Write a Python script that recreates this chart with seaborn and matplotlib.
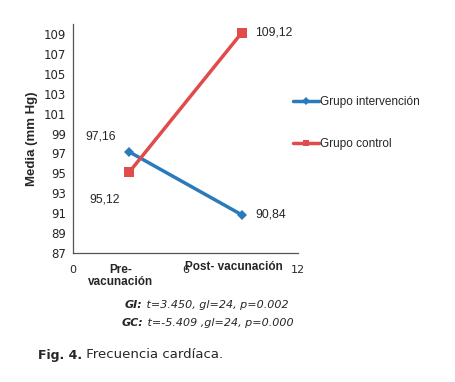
import pandas as pd
import numpy as np
import matplotlib.pyplot as plt
import seaborn as sns

# Datos
momentos = [3, 9]
grupo_intervencion = [97.16, 90.84]
grupo_control = [95.12, 109.12]
etiquetas_int = ['97,16', '90,84']
etiquetas_ctrl = ['95,12', '109,12']
series = ['Grupo intervención', 'Grupo control']
categorias = ['Pre-\nvacunación', 'Post- vacunación']

azul = '#2b7bba'
rojo = '#e04b4b'

sns.set_style("white")
plt.rcParams['font.family'] = ['Liberation Sans', 'DejaVu Sans']

df = pd.DataFrame({
    'x': momentos * 2,
    'media': grupo_intervencion + grupo_control,
    'grupo': [series[0]] * 2 + [series[1]] * 2,
})

fig = plt.figure(figsize=(4.55, 3.82), dpi=100)
ax = fig.add_axes([0.1604, 0.3377, 0.4945, 0.5993])

sns.lineplot(data=df, x='x', y='media', hue='grupo', style='grupo',
             palette=[azul, rojo], markers=['D', 's'], dashes=False,
             markersize=7, linewidth=2.5, markeredgewidth=0, ax=ax)
ax.lines[0].set_markersize(5.5)  # rombo azul más pequeño

ax.set_xlim(0, 12)
ax.set_ylim(87, 110)
ax.set_xticks([0, 6, 12])
ax.set_xticklabels(['0', '6', '12'], fontsize=8, family='DejaVu Sans')
ax.set_yticks(np.arange(87, 110, 2))
ax.tick_params(axis='y', labelsize=8.5, length=3, color='#555555', pad=2)
ax.tick_params(axis='x', length=4, color='#555555', pad=5)
for lab in ax.get_yticklabels():
    lab.set_family('DejaVu Sans')
ax.set_xlabel('')
ax.set_ylabel('Media (mm Hg)', fontsize=9.5, fontweight='bold', labelpad=4)
for s in ['top', 'right']:
    ax.spines[s].set_visible(False)
for s in ['left', 'bottom']:
    ax.spines[s].set_color('#555555')
    ax.spines[s].set_linewidth(0.9)

# etiquetas de datos
ax.text(momentos[0] - 0.71, 98.75, etiquetas_int[0], ha='right', va='center', fontsize=8.7)
ax.text(momentos[1] + 0.71, grupo_intervencion[1], etiquetas_int[1], ha='left', va='center', fontsize=8.7)
ax.text(momentos[0] - 0.49, 92.4, etiquetas_ctrl[0], ha='right', va='center', fontsize=8.7)
ax.text(momentos[1] + 0.71, grupo_control[1], etiquetas_ctrl[1], ha='left', va='center', fontsize=8.7)

# categorías bajo el eje
ax.text(momentos[0] - 0.44, -0.05, categorias[0], transform=ax.get_xaxis_transform(),
        ha='center', va='top', fontsize=8.5, fontweight='bold', linespacing=1.0)
ax.text(momentos[1] - 0.44, -0.035, categorias[1], transform=ax.get_xaxis_transform(),
        ha='center', va='top', fontsize=8.5, fontweight='bold')

# leyenda
leg = ax.legend(loc='upper left', bbox_to_anchor=(0.957, 0.707), frameon=False,
                fontsize=8.5, labelspacing=2.55, handlelength=2.2, handletextpad=0.05,
                borderaxespad=0)
for h in leg.legend_handles:
    h.set_markersize(4.5)

# estadísticos
gi = fig.text(125 / 455, 1 - 305 / 382, 'GI:', ha='left', va='center', fontsize=8,
              family='DejaVu Sans', fontweight='bold', style='italic')
ax.annotate(' t=3.450, gl=24, p=0.002', xy=(1, 0.5), xycoords=gi, ha='left', va='center',
            fontsize=8, family='DejaVu Sans', style='italic', annotation_clip=False)
gc = fig.text(122 / 455, 1 - 323 / 382, 'GC:', ha='left', va='center', fontsize=8,
              family='DejaVu Sans', fontweight='bold', style='italic')
ax.annotate(' t=-5.409 ,gl=24, p=0.000', xy=(1, 0.5), xycoords=gc, ha='left', va='center',
            fontsize=8, family='DejaVu Sans', style='italic', annotation_clip=False)

# pie de figura
fig_lbl = fig.text(38 / 455, 1 - 355 / 382, 'Fig. 4.', ha='left', va='center', fontsize=9,
                   family='DejaVu Sans', fontweight='bold')
ax.annotate(' Frecuencia cardíaca.', xy=(1, 0.5), xycoords=fig_lbl, ha='left', va='center',
            fontsize=9.5, family='DejaVu Sans', annotation_clip=False)

plt.savefig('out.png', dpi=100)
